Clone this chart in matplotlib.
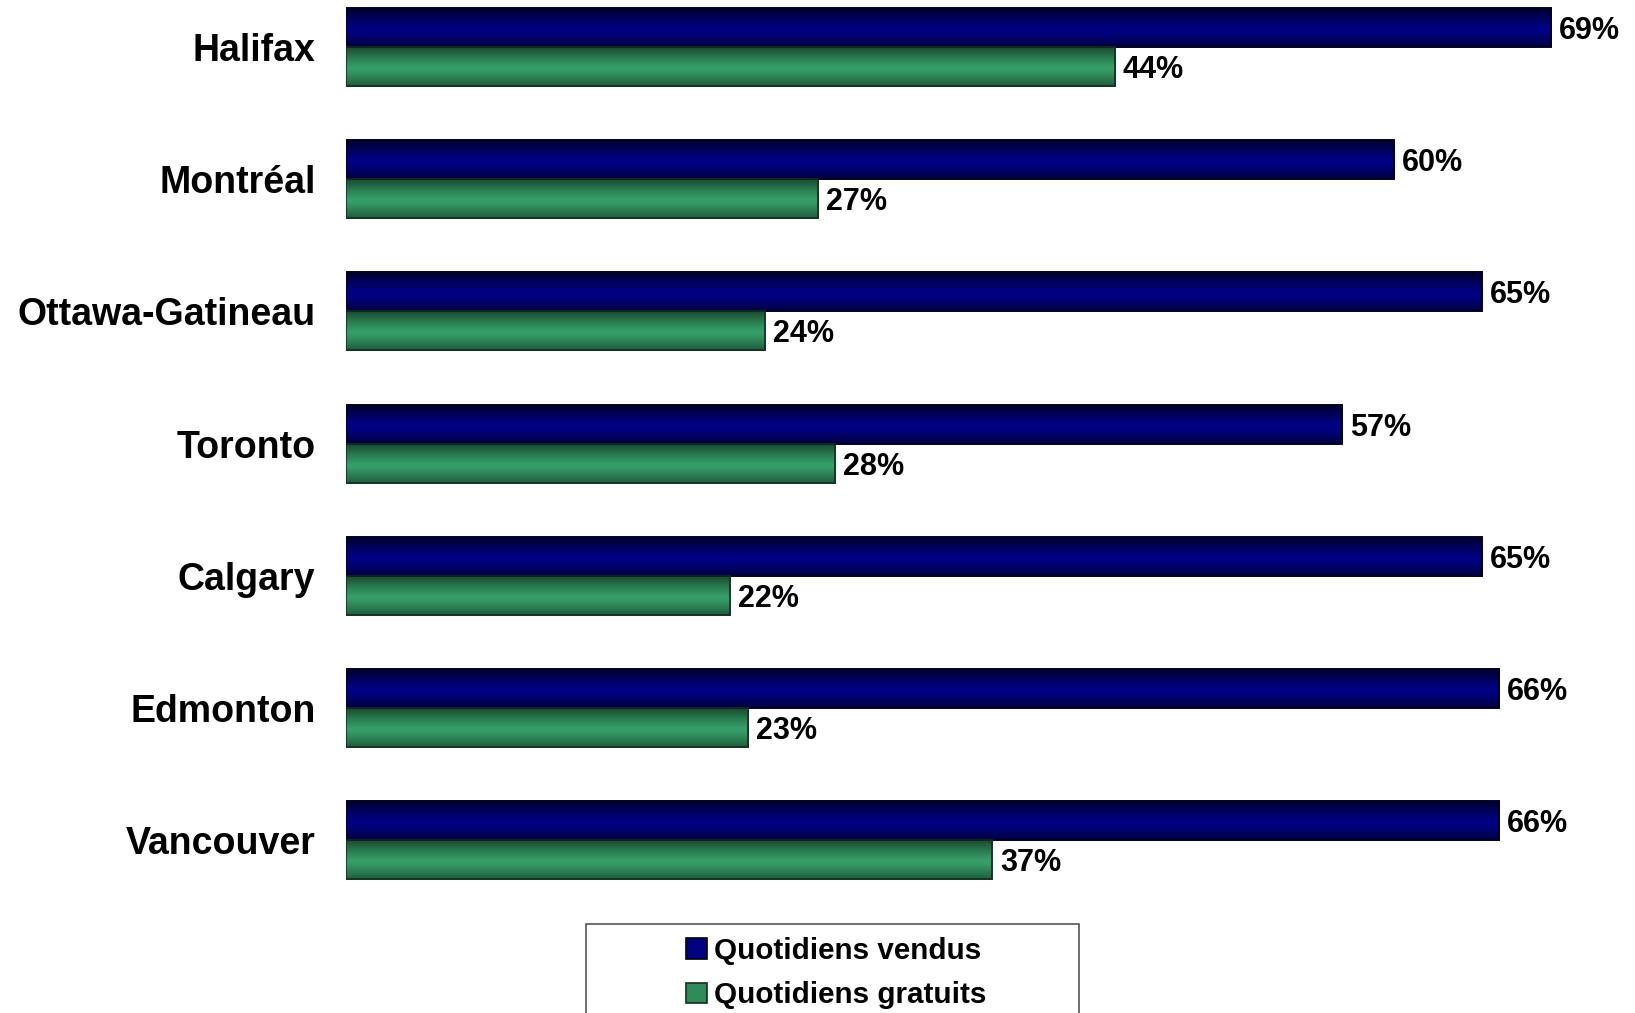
import numpy as np
import matplotlib
matplotlib.use("Agg")
import matplotlib.pyplot as plt
from matplotlib.colors import LinearSegmentedColormap
from matplotlib.patches import Patch, Rectangle

villes = ['Halifax', 'Montréal', 'Ottawa-Gatineau', 'Toronto', 'Calgary', 'Edmonton', 'Vancouver']
vendus = [69, 60, 65, 57, 65, 66, 66]
gratuits = [44, 27, 24, 28, 22, 23, 37]
series = ['Quotidiens vendus', 'Quotidiens gratuits']

plt.rcParams['font.family'] = ['Liberation Sans', 'DejaVu Sans']
plt.rcParams['font.weight'] = 'bold'

fig = plt.figure(figsize=(16.35, 10.13), dpi=100)
ax = fig.add_axes([346 / 1635, 113 / 1013, 1 - 346 / 1635, 900 / 1013])

y = np.arange(len(villes))
h = 0.295
bleu = ax.barh(y - h, vendus, height=h, align='edge', color='#000080',
               edgecolor='#000020', linewidth=1.2, zorder=2)
vert = ax.barh(y, gratuits, height=h, align='edge', color='#339966',
               edgecolor='#10301f', linewidth=1.2, zorder=2)

# shading across each bar, dark edges, bright band a bit below the middle
cm_bleu = LinearSegmentedColormap.from_list('b', ['#00002a', '#000088'])
cm_vert = LinearSegmentedColormap.from_list('v', ['#1a4a30', '#37a06a'])
t = np.linspace(0, 1, 80)
prof = np.clip(1 - (np.abs(t - 0.55) / 0.55) ** 1.2, 0, 1)[:, None]
for bars, cm in ((bleu, cm_bleu), (vert, cm_vert)):
    for r in bars:
        x0, y0 = r.get_x(), r.get_y()
        im = ax.imshow(prof, extent=[x0, x0 + r.get_width(), y0 + r.get_height(), y0],
                       aspect='auto', cmap=cm, vmin=0, vmax=1, zorder=2.5)
        im.set_clip_path(r)
        edge = Rectangle((x0, y0), r.get_width(), r.get_height(), fill=False,
                         edgecolor=r.get_edgecolor(), linewidth=1.2, zorder=3)
        ax.add_patch(edge)

for i in range(len(villes)):
    ax.text(vendus[i] + 0.45, y[i] - h / 2, f'{vendus[i]}%', va='center_baseline', ha='left',
            fontsize=22, fontweight='bold')
    ax.text(gratuits[i] + 0.45, y[i] + h / 2, f'{gratuits[i]}%', va='center_baseline', ha='left',
            fontsize=22, fontweight='bold')

ax.set_xlim(0, (1635 - 346) / 17.47)
ax.set_ylim((900 - 47) / 132.2, -47 / 132.2)
ax.set_yticks(y)
ax.set_yticklabels(villes, fontsize=27, fontweight='bold')
ax.tick_params(axis='y', length=0, pad=22)
ax.set_xticks([])
for s in ax.spines.values():
    s.set_visible(False)

# legend box, cut by the bottom edge like the original
fig.patches.append(Rectangle((586 / 1635, -0.05), (1079 - 586) / 1635, 0.05 + 1 - 924 / 1013,
                             transform=fig.transFigure, fill=False, edgecolor='#555555',
                             linewidth=1.2))
handles = [Patch(facecolor='#000080', edgecolor='black', linewidth=1.2),
           Patch(facecolor='#2e8b57', edgecolor='#10301f', linewidth=1.2)]
fig.legend(handles, series, loc='upper left', bbox_to_anchor=(686 / 1635, 1 - 937 / 1013),
           frameon=False, prop={'weight': 'bold', 'size': 21.3},
           handlelength=0.7, handleheight=0.7, handletextpad=0.25,
           labelspacing=0.55, borderpad=0, borderaxespad=0)

fig.savefig('out.png', dpi=100)
